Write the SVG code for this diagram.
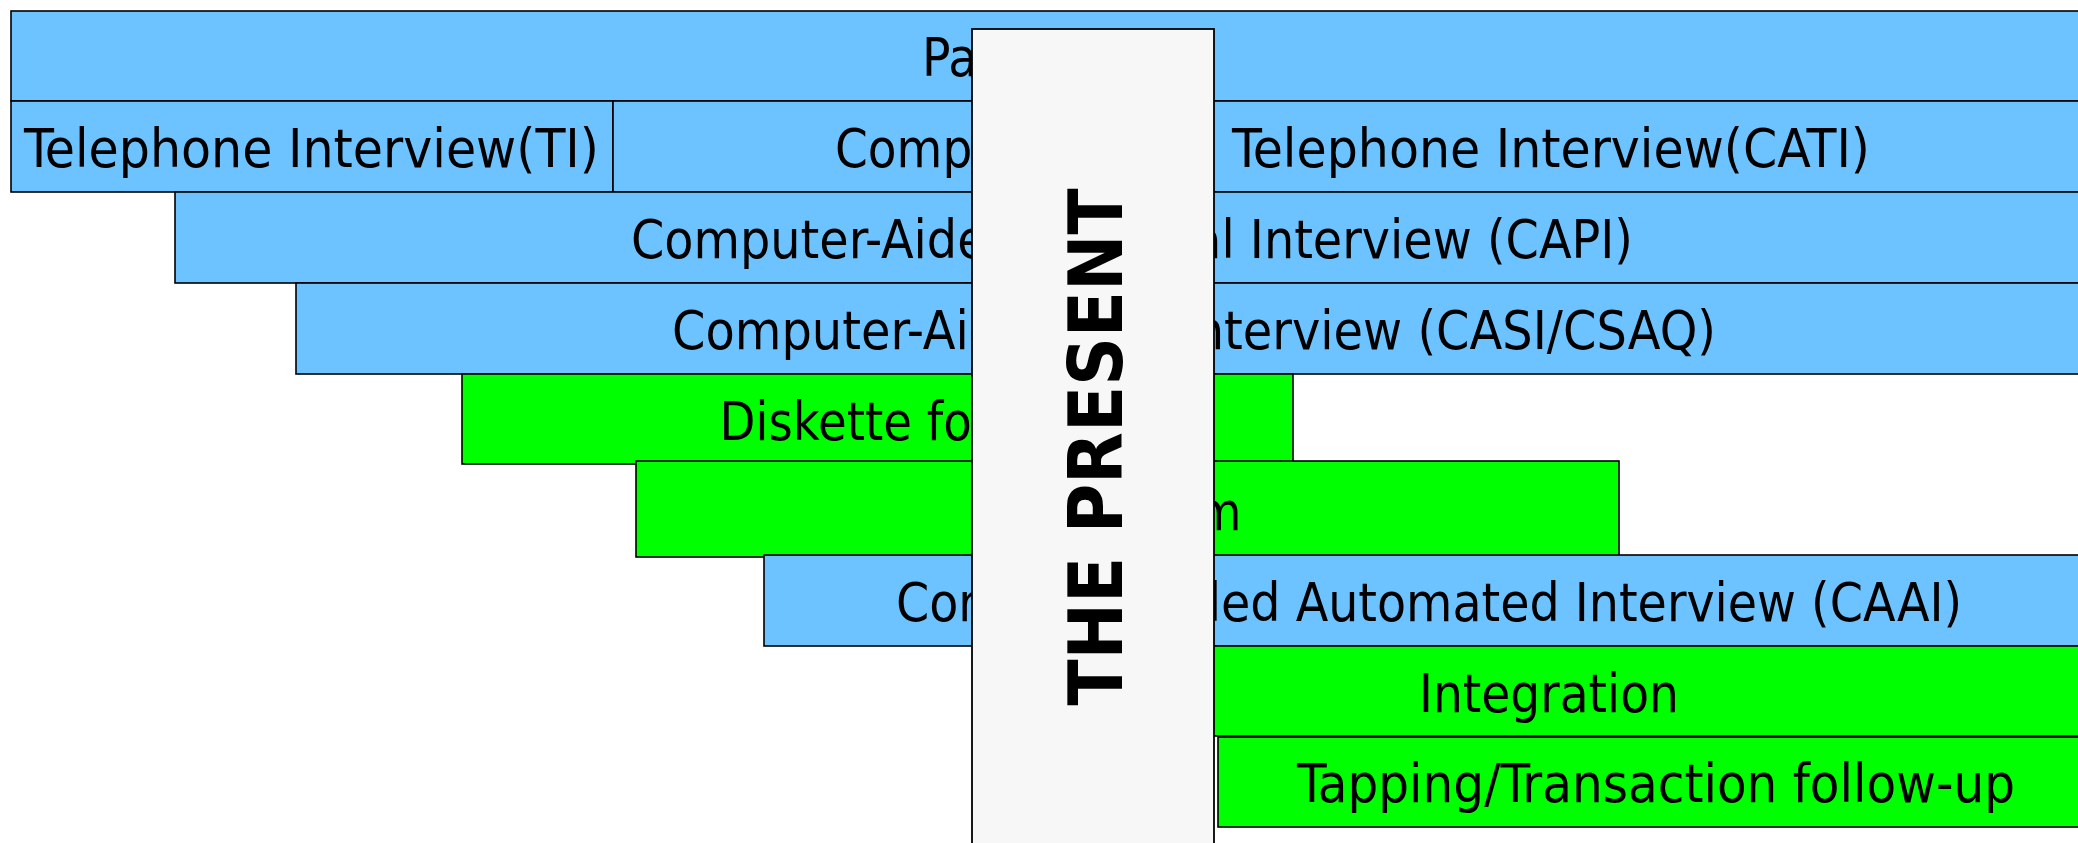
<svg xmlns="http://www.w3.org/2000/svg" width="2078" height="843" viewBox="0 0 2078 843">
<style>
  .bar { stroke: #000; stroke-width: 1.6; }
  .blue { fill: #6cc3ff; }
  .green { fill: #00ff00; }
  .lbl { font-family: "DejaVu Sans Condensed", "DejaVu Sans", sans-serif; font-stretch: condensed; font-size: 53px; fill: #000; text-anchor: middle; }
  .start { text-anchor: start; }
  .present { fill: #f7f7f7; stroke: #000; stroke-width: 1.8; }
  .ptxt { font-family: "DejaVu Sans Condensed", "DejaVu Sans", sans-serif; font-stretch: condensed; font-weight: bold; font-size: 75px; fill: #000; text-anchor: middle; }
</style>
<rect width="2078" height="843" fill="#fff"/>
<g id="paper">
  <rect class="bar blue" x="11" y="11" width="2081" height="90"/>
  <text class="lbl" x="1051.5" y="76" textLength="259" lengthAdjust="spacingAndGlyphs">Paper form</text>
</g>
<g id="ti">
  <rect class="bar blue" x="11" y="101" width="602" height="91"/>
  <text class="lbl" x="311.5" y="167" textLength="575" lengthAdjust="spacingAndGlyphs">Telephone Interview(TI)</text>
</g>
<g id="cati">
  <rect class="bar blue" x="613" y="101" width="1479" height="91"/>
  <text class="lbl start" y="167"><tspan x="835" textLength="380" lengthAdjust="spacingAndGlyphs">Computer-Aided</tspan> <tspan x="1232" textLength="638" lengthAdjust="spacingAndGlyphs">Telephone Interview(CATI)</tspan></text>
</g>
<g id="capi">
  <rect class="bar blue" x="175" y="192" width="1917" height="91"/>
  <text class="lbl" x="1132" y="258" textLength="1002" lengthAdjust="spacingAndGlyphs">Computer-Aided Personal Interview (CAPI)</text>
</g>
<g id="casi">
  <rect class="bar blue" x="296" y="283" width="1796" height="91"/>
  <text class="lbl" x="1194" y="348.5" textLength="1044" lengthAdjust="spacingAndGlyphs">Computer-Aided Self Interview (CASI/CSAQ)</text>
</g>
<g id="diskette">
  <rect class="bar green" x="462" y="374" width="831" height="90"/>
  <text class="lbl" x="877.5" y="440" textLength="316" lengthAdjust="spacingAndGlyphs">Diskette form</text>
</g>
<g id="web">
  <rect class="bar green" x="636" y="461" width="983" height="96"/>
  <text class="lbl" x="1129" y="530" textLength="225" lengthAdjust="spacingAndGlyphs">Web form</text>
</g>
<g id="caai">
  <rect class="bar blue" x="764" y="555" width="1328" height="91"/>
  <text class="lbl" x="1429" y="621" textLength="1066" lengthAdjust="spacingAndGlyphs">Computer-Aided Automated Interview (CAAI)</text>
</g>
<g id="integration">
  <rect class="bar green" x="1006" y="646" width="1086" height="90"/>
  <text class="lbl" x="1549" y="712" textLength="260" lengthAdjust="spacingAndGlyphs">Integration</text>
</g>
<g id="tapping">
  <rect class="bar green" x="1218" y="737" width="874" height="90"/>
  <text class="lbl" x="1656" y="802" textLength="718" lengthAdjust="spacingAndGlyphs">Tapping/Transaction follow-up</text>
</g>
<g id="the-present">
  <rect class="present" x="972" y="29" width="242" height="830"/>
  <text class="ptxt" transform="translate(1094.5,447) rotate(-90)" x="0" y="27.5" textLength="517" lengthAdjust="spacingAndGlyphs">THE PRESENT</text>
</g>
<g id="connectors"/>
</svg>
